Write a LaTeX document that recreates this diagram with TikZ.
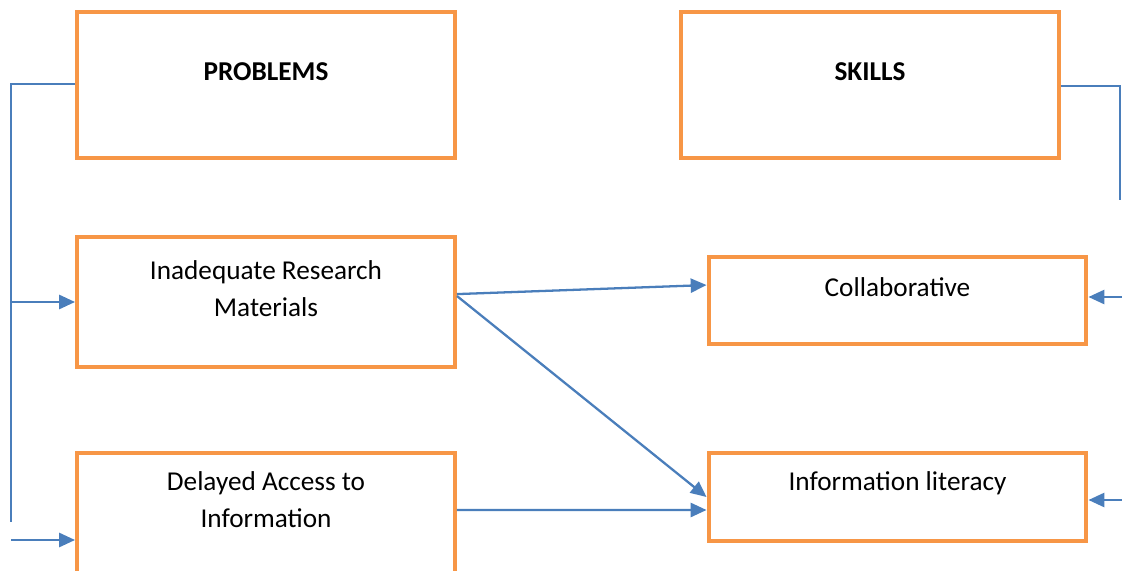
\documentclass[tikz,border=0pt]{standalone}
\usepackage{fontspec}
\setmainfont{Carlito}
\usetikzlibrary{arrows.meta}

\definecolor{boxorange}{HTML}{F79646}
\definecolor{lineblue}{HTML}{4A7EBB}

\tikzset{
  box/.style={draw=boxorange, line width=2.3pt, fill=white, minimum width=7.56cm},
  txt/.style={align=center, font=\fontsize{15.5}{21.5}\selectfont, yshift=7.6pt},
  link/.style={draw=lineblue, line width=1.3pt},
  arr/.style={link, -{Triangle[length=9pt,width=8pt]}}
}

\begin{document}
\begin{tikzpicture}[x=0.02cm, y=-0.02cm]
            \useasboundingbox (0,0) rectangle (1122,571);
            % left column
            \node[box, minimum height=2.92cm, label={[txt]center:\textbf{PROBLEMS}}] (problems) at (266,85) {};
            \node[box, minimum height=2.6cm, label={[txt]center:{Inadequate Research\\Materials}}] (inadequate) at (266,302) {};
            \node[box, minimum height=2.4cm, label={[txt]center:{Delayed Access to\\Information}}] (delayed) at (266,513) {};
            % right column
            \node[box, minimum height=2.92cm, label={[txt]center:\textbf{SKILLS}}] (skills) at (870,85) {};
            \node[box, minimum height=1.74cm, label={[txt]center:Collaborative}] (collab) at (897.5,300.5) {};
            \node[box, minimum height=1.76cm, label={[txt]center:Information literacy}] (infolit) at (897.5,497) {};
            % side lines
            \coordinate (ltop) at (11,84);
            \coordinate (lend) at (11,522);
            \coordinate (lfoot) at (11,540);
            \coordinate (rtop) at (1120,86);
            \coordinate (rend) at (1120,200);
            \coordinate (rcol) at (1122,297);
            \coordinate (rinf) at (1122,500);
            \draw[link] (problems.west |- ltop) -- (ltop) -- (lend);
            \draw[arr] (ltop |- inadequate.west) -- (inadequate.west);
            \draw[arr] (lfoot) -- (delayed.west |- lfoot);
            \draw[link] (skills.east |- rtop) -- (rtop) -- (rend);
            \draw[arr] (rcol) -- (collab.east |- rcol);
            \draw[arr] (rinf) -- (infolit.east |- rinf);
            % middle arrows
            \draw[arr] ([yshift=4.5pt]inadequate.east) -- ([yshift=8.8pt]collab.west);
            \draw[arr] ([yshift=3.4pt]inadequate.east) -- (infolit.west);
            \draw[arr] ([yshift=1.7pt]delayed.east) -- ([yshift=-7.4pt]infolit.west);
\end{tikzpicture}
\end{document}
